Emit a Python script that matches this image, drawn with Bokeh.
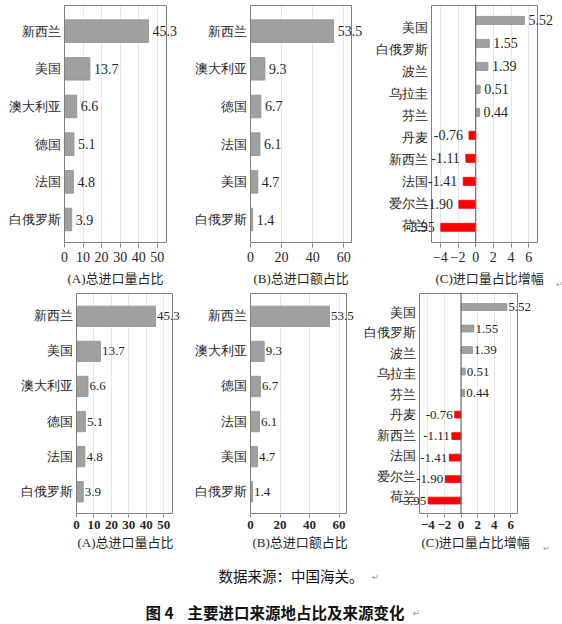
from bokeh.plotting import figure
from bokeh.models import (ColumnDataSource, Range1d, FixedTicker, LabelSet, Span, Label,
                          BoxAnnotation)
from bokeh.layouts import row, column
from bokeh.embed import file_html
from bokeh.resources import INLINE

# ---------------- data ----------------
cats_a = ["新西兰", "美国", "澳大利亚", "德国", "法国", "白俄罗斯"]
vals_a = [45.3, 13.7, 6.6, 5.1, 4.8, 3.9]
cats_b = ["新西兰", "澳大利亚", "德国", "法国", "美国", "白俄罗斯"]
vals_b = [53.5, 9.3, 6.7, 6.1, 4.7, 1.4]
cats_c = ["美国", "白俄罗斯", "波兰", "乌拉圭", "芬兰", "丹麦", "新西兰", "法国", "爱尔兰", "荷兰"]
vals_c = [5.52, 1.55, 1.39, 0.51, 0.44, -0.76, -1.11, -1.41, -1.90, -3.95]
ticks_a = [0, 10, 20, 30, 40, 50]
ticks_b = [0, 20, 40, 60]
ticks_c = [-4, -2, 0, 2, 4, 6]
titles = ["(A)总进口量占比", "(B)总进口额占比", "(C)进口量占比增幅"]
source_note = "数据来源：中国海关。"
fig_no = "图 4"
fig_title = "主要进口来源地占比及来源变化"
para_mark = "↵"

# ---------------- style ----------------
CJK = "Noto Sans CJK SC"
SERIF = "Liberation Serif"
MIXED = "Liberation Serif, Noto Sans CJK SC"
TXT = "#262626"
GRAY_BAR = "#a0a0a0"
GRAY_EDGE = "#909090"
RED = "#ff0000"
FRAME = "#7f7f7f"
GRID = "#e6e6e6"
ZERO = "#6e6e6e"
MARK = "#9a9a9a"
PAGE_W = 562


def panel(cats, vals, dec, ticks, fig_box, box, xr, yr_box, bar_h, label_pos, st):
    fx, fy, w, h = fig_box          # figure placement on the page (px)
    bl, br, bt, bb = box            # plot box on the page (px)
    x0, x1 = xr
    yt, yb = yr_box
    kx = (br - bl) / (x1 - x0)
    xs = x0 - (bl - fx) / kx
    xe = x0 + (fx + w - bl) / kx
    ft = max(fy, bt - 1)
    fb = bb + 1
    ky = (bb - bt) / (yb - yt)
    ys = yb + (fb - bb) / ky
    ye = yt - (bt - ft) / ky

    p = figure(width=w, height=h, x_range=Range1d(xs, xe), y_range=Range1d(ys, ye),
               output_backend="svg", toolbar_location=None, y_axis_location=None,
               min_border_left=0, min_border_right=0,
               min_border_top=ft - fy, min_border_bottom=fy + h - fb)
    p.outline_line_color = None
    p.background_fill_color = "white"
    p.border_fill_color = "white"

    idx = list(range(len(cats)))
    colors = [GRAY_BAR if v >= 0 else RED for v in vals]
    edges = [GRAY_EDGE if v >= 0 else RED for v in vals]
    src = ColumnDataSource(dict(y=idx, v=vals, c=colors, e=edges))
    p.hbar(y="y", left=0, right="v", height=bar_h, fill_color="c", line_color="e",
           line_width=0.8, source=src)

    p.add_layout(BoxAnnotation(left=x0, right=x1, top=yt, bottom=yb,
                               fill_color=None, fill_alpha=0,
                               line_color=FRAME, line_alpha=1, line_width=1))
    if x0 < 0:
        p.add_layout(Span(location=0, dimension="height", line_color=ZERO, line_width=1.2))

    xa = p.xaxis[0]
    xa.ticker = FixedTicker(ticks=ticks)
    xa.major_tick_in = 0
    xa.major_tick_out = st["tick_out"]
    xa.major_tick_line_color = FRAME
    xa.minor_tick_line_color = None
    xa.axis_line_color = None
    xa.major_label_standoff = st["tick_standoff"]
    xa.major_label_text_font = SERIF
    xa.major_label_text_font_size = st["tick_size"]
    xa.major_label_text_font_style = st["tick_style"]
    xa.major_label_text_color = TXT

    p.xgrid.grid_line_color = GRID
    p.ygrid.visible = False

    csrc = ColumnDataSource(dict(x=[x0] * len(cats), y=label_pos, t=cats))
    p.add_layout(LabelSet(x="x", y="y", text="t", source=csrc, text_align="right",
                          text_baseline="middle", x_offset=-4,
                          text_font=CJK, text_font_size=st["cat_size"], text_color=TXT))

    fmt = "{:.%df}" % dec
    pos = [i for i, v in enumerate(vals) if v >= 0]
    neg = [i for i, v in enumerate(vals) if v < 0]
    for sel, align, off in ((pos, "left", st["pos_off"]), (neg, "right", st["neg_off"])):
        if not sel:
            continue
        s = ColumnDataSource(dict(x=[vals[i] for i in sel], y=sel,
                                  t=[fmt.format(vals[i]) for i in sel]))
        p.add_layout(LabelSet(x="x", y="y", text="t", source=s, text_align=align,
                              text_baseline="middle", x_offset=off,
                              text_font=SERIF, text_font_size=st["val_size"],
                              text_color=TXT))
    return p


def strip(y0, y1):
    s = figure(width=PAGE_W, height=y1 - y0, x_range=Range1d(0, PAGE_W), y_range=Range1d(y1, y0),
               output_backend="svg", toolbar_location=None, min_border=0,
               x_axis_location=None, y_axis_location=None)
    s.outline_line_color = None
    s.grid.visible = False
    s.background_fill_color = "white"
    s.border_fill_color = "white"
    return s


def text(fig, x, y, t, font, size, color=TXT, align="left", style="normal"):
    fig.add_layout(Label(x=x, y=y, text=t, text_align=align, text_baseline="middle",
                         text_font=font, text_font_size=size, text_color=color,
                         text_font_style=style))


top_st = dict(tick_out=4, tick_standoff=4, tick_size="14px", tick_style="normal",
              cat_size="13px", val_size="14px", pos_off=4, neg_off=-6)
bot_st = dict(tick_out=3, tick_standoff=3, tick_size="13px", tick_style="bold",
              cat_size="12.5px", val_size="13px", pos_off=1.5, neg_off=-2)

ab_pos = list(range(6))
c_top_pos = [0.29 + 0.958 * i for i in range(10)]
c_bot_pos = [0.264 + 0.954 * i for i in range(10)]

TOP_Y, TOP_H = 0, 268
BOT_Y, BOT_H = 290, 245

pa = panel(cats_a, vals_a, 1, ticks_a, (0, TOP_Y, 186, TOP_H), (64, 166, 5, 242),
           (0, 55), (-0.68, 5.61), 0.6, ab_pos, top_st)
pb = panel(cats_b, vals_b, 1, ticks_b, (186, TOP_Y, 186, TOP_H), (250, 351, 5, 242),
           (0, 65), (-0.68, 5.61), 0.6, ab_pos, top_st)
pc = panel(cats_c, vals_c, 2, ticks_c, (372, TOP_Y, 190, TOP_H), (431, 537, 5, 242),
           (-5, 7), (-0.65, 9.66), 0.35, c_top_pos, top_st)

qa = panel(cats_a, vals_a, 1, ticks_a, (0, BOT_Y, 186, BOT_H), (76, 172, 293, 513),
           (0, 55), (-0.65, 5.62), 0.58, ab_pos, bot_st)
qb = panel(cats_b, vals_b, 1, ticks_b, (186, BOT_Y, 174, BOT_H), (250, 346, 293, 513),
           (0, 65), (-0.65, 5.62), 0.58, ab_pos, bot_st)
qc = panel(cats_c, vals_c, 2, ticks_c, (360, BOT_Y, 202, BOT_H), (419, 517, 293, 513),
           (-5, 6.8), (-0.63, 9.6), 0.32, c_bot_pos, bot_st)

# panel titles (top row)
t1 = strip(268, 290)
for x, t in zip([67, 253, 435], titles):
    text(t1, x, 277.5, t, MIXED, "13px")
text(t1, 559, 284, para_mark, "DejaVu Sans", "8px", MARK, "center")

# panel titles (bottom row)
t2 = strip(535, 552)
for x, t in zip([77, 252, 421], titles):
    text(t2, x, 542, t, MIXED, "13px")
text(t2, 546, 548, para_mark, "DejaVu Sans", "8px", MARK, "center")

# caption
cap = strip(552, 624)
text(cap, 290.5, 575, source_note, CJK, "14.5px", "#111111", "center")
text(cap, 371, 576, para_mark, "DejaVu Sans", "9px", MARK)
text(cap, 145, 611, fig_no, CJK, "15.5px", "#111111", "left", "bold")
text(cap, 187, 611, fig_title, CJK, "15.5px", "#111111", "left", "bold")
text(cap, 412, 612, para_mark, "DejaVu Sans", "9px", MARK)

layout = column(row(pa, pb, pc), t1, row(qa, qb, qc), t2, cap)

open("out.html", "w").write(file_html(layout, INLINE))
